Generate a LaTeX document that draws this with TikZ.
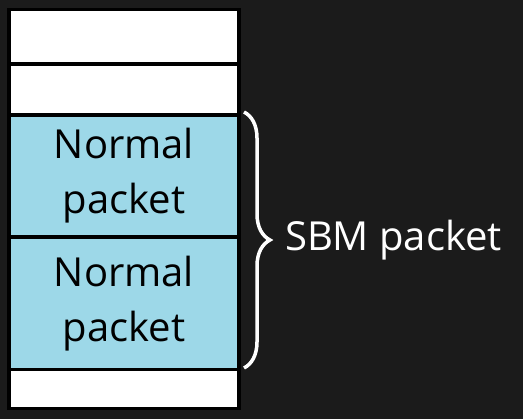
\documentclass[tikz,border=0pt]{standalone}
\usepackage{fontspec}
\setmainfont{Open Sans}
\usetikzlibrary{positioning,decorations.pathreplacing}
\definecolor{pktblue}{RGB}{157,216,232}
\definecolor{bgdark}{RGB}{27,27,27}
\tikzset{
  slot/.style={
      rectangle,
      draw=black,
      line width=3.5pt,
      fill=white,
      minimum width=230pt,
      inner sep=0pt,
      outer sep=0pt
  },
  packet/.style={
      slot,
      fill=pktblue,
      align=center,
      font=\fontsize{40}{55}\selectfont
  },
  bracetext/.style={
      text=white,
      font=\fontsize{40}{48}\selectfont
  }
}

\begin{document}
\begin{tikzpicture}[x=1pt,y=-1pt,node distance=0pt]
    \fill[bgdark] (0,0) rectangle (523,419);
    \useasboundingbox (0,0) rectangle (523,419);
    \node[slot,minimum height=54.5pt,anchor=north west] (top) at (9,9.5) {};
    \node[slot,minimum height=51pt,below=of top] (free) {};
    \node[packet,minimum height=122pt,below=of free] (first) {Normal\\packet};
    \node[packet,minimum height=132.5pt,below=of first] (second) {Normal\\packet};
    \node[slot,minimum height=39pt,below=of second] (bottom) {};
    \draw[white,line width=3.5pt,decorate,decoration={brace,amplitude=26pt}]
      ([xshift=5pt,yshift=3pt]first.north east) -- ([xshift=5pt,yshift=1.5pt]second.south east)
      node[bracetext,midway,right=36pt] (sbm) {SBM packet};
\end{tikzpicture}
\end{document}
